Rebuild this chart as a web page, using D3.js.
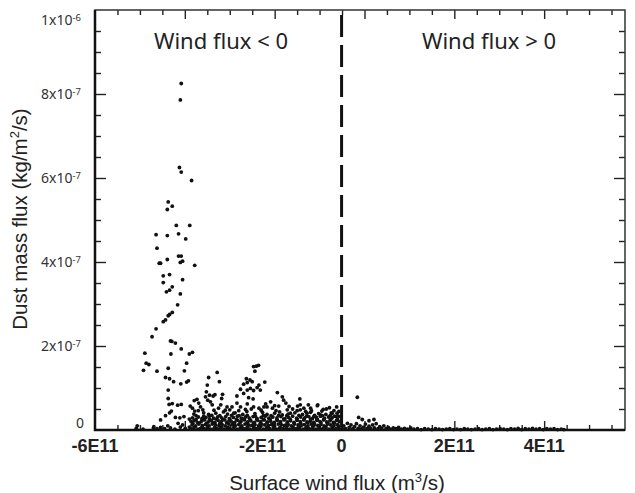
<!DOCTYPE html>
<html>
<head>
<meta charset="utf-8">
<script src="https://cdn.jsdelivr.net/npm/d3@7"></script>
<style>
body { margin: 0; background: #fff; }
svg { display: block; }
</style>
</head>
<body>
<svg id="chart"></svg>
<script>
// wind flux in units of 1e11 m3/s, dust flux in units of 1e-7 kg/m2/s
const scatterPoints = [
    [-4.08,8.25],[-4.10,7.86],[-4.12,6.25],[-4.08,6.14],[-3.85,5.94],[-4.37,5.43],[-4.28,5.33],[-4.39,5.25],
    [-4.19,4.87],[-3.89,4.87],[-4.64,4.65],[-4.39,4.63],[-4.14,4.67],[-3.98,4.55],[-4.62,4.33],[-4.14,4.14],
    [-4.08,4.14],[-4.39,4.06],[-4.57,3.97],[-4.54,3.97],[-4.10,3.99],[-4.05,4.02],[-3.78,3.92],[-4.48,3.67],
    [-4.34,3.70],[-4.05,3.58],[-4.48,3.51],[-4.28,3.41],[-4.34,3.33],[-4.41,3.29],[-4.10,3.24],[-4.16,2.98],
    [-4.28,2.80],[-4.34,2.75],[-4.37,2.72],[-4.43,2.62],[-4.48,2.58],[-4.64,2.41],[-4.73,2.22],[-4.32,2.12],
    [-4.29,2.11],[-4.21,2.07],[-4.89,1.83],[-4.31,1.81],[-4.08,1.93],[-3.90,1.81],[-3.83,1.85],[-4.86,1.59],
    [-4.80,1.56],[-3.96,1.59],[-4.92,1.42],[-4.62,1.40],[-4.37,1.47],[-4.01,1.41],[-4.43,1.25],[-4.34,1.22],
    [-4.25,1.15],[-4.09,1.10],[-3.96,1.14],[-3.92,1.17],[-4.37,0.95],[-4.28,0.63],[-4.35,0.61],[-4.30,0.45],
    [-4.34,0.41],[-4.37,0.75],[-4.08,0.61],[-4.16,0.59],[-4.54,0.24],[-4.21,0.30],[-4.11,0.29],[-4.02,0.32],
    [-4.43,0.34],[-4.69,0.08],[-5.06,0.10]
]

const secondPeak = [
    [-2.47,1.51],[-2.41,1.52],[-2.36,1.54],[-2.44,1.40],[-3.28,1.37],[-3.47,1.25],[-2.63,1.22],[-2.55,1.19],
    [-2.61,1.13],[-3.23,1.15],[-2.22,1.14],[-2.35,1.07],[-2.39,1.01],[-2.32,0.95],[-3.50,1.07],[-2.69,1.09],
    [-2.54,0.99],[-2.61,0.95],[-2.47,0.94],[-2.76,0.97],[-3.52,0.91],[-3.45,0.83],[-3.54,0.79],[-3.37,0.81],
    [-3.33,0.84],[-2.84,0.81],[-2.69,0.87],[-2.58,0.77],[-2.48,0.74],[-3.16,0.85],[-3.18,0.75],[-3.73,0.73],
    [-3.79,0.70],[-3.69,0.64],[-3.65,0.55],[-3.88,0.57],[-3.83,0.52],[-3.78,0.45],[-3.49,0.71],[-3.43,0.67],
    [-3.39,0.60],[-1.94,0.89],[-1.83,0.79],[-1.80,0.71],[-1.75,0.64],[-1.91,0.57],[-1.44,0.74],[-2.09,0.67],
    [-2.17,0.55],[-1.49,0.57],[-1.43,0.48],[-1.05,0.58],[-0.85,0.50],[-0.68,0.46],[-2.76,0.55],[-2.84,0.64],
    [-2.61,0.62],[-2.47,0.55],[-2.35,0.52],[-2.24,0.55],[-3.06,0.55],[-3.00,0.48],[-2.91,0.40],[-1.72,0.48],
    [-1.65,0.40],[-1.83,0.36],[-1.28,0.40],[-1.13,0.32],[-0.98,0.36],[-0.61,0.40],[-0.53,0.32],[-2.50,1.15],
    [-1.43,0.60],[-1.04,0.60],[-1.20,0.52],[-1.31,0.44],[-0.57,0.44],[-0.72,0.40],[-0.67,0.33]
]

const positivePoints = [
    [-0.16,0.78],[-0.13,0.30],[-0.05,0.25],[0.10,0.22],[0.21,0.25]
]

const denseBase = [
    [-3.87,.03],[-3.80,.05],[-3.71,.02],[-3.65,.04],[-3.57,.03],[-3.50,.05],[-3.43,.02],[-3.35,.04],[-3.28,.03],[-3.21,.05],
    [-3.13,.02],[-3.06,.04],[-2.99,.03],[-2.91,.05],[-2.84,.02],[-2.77,.04],[-2.69,.03],[-2.62,.05],[-2.55,.02],[-2.47,.04],
    [-2.40,.03],[-2.33,.05],[-2.25,.02],[-2.18,.04],[-2.11,.03],[-2.03,.05],[-1.96,.02],[-1.89,.04],[-1.81,.03],[-1.74,.05],
    [-1.67,.02],[-1.59,.04],[-1.52,.03],[-1.45,.05],[-1.37,.02],[-1.30,.04],[-1.23,.03],[-1.15,.05],[-1.08,.02],[-1.01,.04],
    [-0.93,.03],[-0.86,.05],[-0.79,.02],[-0.71,.04],[-0.64,.03],[-0.57,.05],
    [-3.90,.07],[-3.77,.08],[-3.62,.06],[-3.48,.09],[-3.33,.07],[-3.18,.08],[-3.04,.06],[-2.89,.09],[-2.75,.07],[-2.60,.08],
    [-2.46,.06],[-2.31,.09],[-2.17,.07],[-2.02,.08],[-1.88,.06],[-1.73,.09],[-1.59,.07],[-1.44,.08],[-1.30,.06],[-1.15,.09],
    [-1.01,.07],[-0.86,.08],[-0.72,.06],[-0.58,.09],
    [-3.84,.12],[-3.76,.10],[-3.69,.14],[-3.61,.11],[-3.54,.13],[-3.46,.10],[-3.39,.14],[-3.32,.12],[-3.24,.11],[-3.17,.13],
    [-3.10,.10],[-3.02,.14],[-2.95,.12],[-2.88,.11],[-2.80,.13],[-2.73,.10],[-2.66,.14],[-2.58,.12],[-2.51,.11],[-2.44,.13],
    [-2.36,.10],[-2.29,.14],[-2.22,.12],[-2.14,.11],[-2.07,.13],[-2.00,.10],[-1.92,.14],[-1.85,.12],[-1.78,.11],[-1.70,.13],
    [-1.63,.10],[-1.56,.14],[-1.48,.12],[-1.41,.11],[-1.34,.13],[-1.26,.10],[-1.19,.14],[-1.12,.12],[-1.04,.11],[-0.97,.13],
    [-0.90,.10],[-0.82,.14],[-0.75,.12],[-0.68,.11],[-0.60,.13],
    [-3.82,.16],[-3.67,.17],[-3.52,.16],[-3.37,.17],[-3.22,.16],[-3.07,.17],[-2.92,.16],[-2.77,.17],[-2.62,.16],[-2.47,.17],
    [-2.32,.16],[-2.17,.17],[-2.02,.16],[-1.87,.17],[-1.72,.16],[-1.57,.17],[-1.42,.16],[-1.27,.17],[-1.12,.16],[-0.97,.17],
    [-0.82,.16],[-0.67,.17],
    [-3.86,.20],[-3.79,.23],[-3.72,.18],[-3.63,.21],[-3.56,.24],[-3.48,.19],[-3.41,.22],[-3.33,.18],[-3.26,.23],[-3.19,.20],
    [-3.11,.24],[-3.04,.19],[-2.97,.21],[-2.89,.18],[-2.82,.23],[-2.75,.20],[-2.67,.24],[-2.60,.19],[-2.53,.22],[-2.45,.18],
    [-2.38,.23],[-2.31,.20],[-2.23,.24],[-2.16,.19],[-2.09,.21],[-2.01,.18],[-1.94,.23],[-1.87,.20],[-1.79,.24],[-1.72,.19],
    [-1.65,.22],[-1.57,.18],[-1.50,.23],[-1.43,.20],[-1.35,.24],[-1.28,.19],[-1.21,.21],[-1.13,.18],[-1.06,.23],[-0.99,.20],
    [-0.91,.24],[-0.84,.19],[-0.77,.22],[-0.69,.18],[-0.62,.23],[-0.56,.20],
    [-3.90,.26],[-3.75,.25],[-3.60,.26],[-3.45,.25],[-3.30,.26],[-3.15,.25],[-3.00,.26],[-2.85,.25],[-2.70,.26],[-2.55,.25],
    [-2.40,.26],[-2.25,.25],[-2.10,.26],[-1.95,.25],[-1.80,.26],[-1.65,.25],[-1.50,.26],[-1.35,.25],[-1.20,.26],[-1.05,.25],
    [-0.90,.26],[-0.75,.25],[-0.60,.26],
    [-3.83,.29],[-3.70,.31],[-3.62,.27],[-3.53,.30],[-3.45,.33],[-3.36,.28],[-3.27,.31],[-3.18,.29],[-3.09,.32],[-3.01,.27],
    [-2.92,.30],[-2.83,.33],[-2.74,.28],[-2.65,.31],[-2.57,.29],[-2.48,.32],[-2.39,.27],[-2.30,.30],[-2.21,.33],[-2.13,.28],
    [-2.04,.31],[-1.95,.29],[-1.86,.32],[-1.77,.27],[-1.69,.30],[-1.60,.33],[-1.51,.28],[-1.42,.31],[-1.33,.29],[-1.24,.32],
    [-1.16,.27],[-1.07,.30],[-0.98,.33],[-0.89,.28],[-0.80,.31],[-0.72,.29],[-0.63,.32],
    [-3.75,.34],[-3.58,.33],[-3.40,.35],[-3.22,.34],[-2.96,.35],[-2.79,.34],[-2.61,.35],[-2.43,.33],[-2.25,.35],[-2.08,.34],
    [-1.91,.35],[-1.73,.34],[-1.46,.35],[-1.29,.33],[-1.11,.35],[-0.94,.34],[-0.76,.35],[-0.58,.33],
    [-3.80,.38],[-3.58,.41],[-3.47,.37],[-3.31,.40],[-3.14,.43],[-3.05,.38],[-2.88,.41],[-2.71,.37],[-2.62,.44],[-2.44,.39],
    [-2.27,.42],[-2.17,.37],[-2.00,.40],[-1.89,.43],[-1.70,.38],[-1.55,.41],[-1.38,.37],[-1.20,.42],[-1.02,.39],[-0.86,.37],
    [-0.74,.41],
    [-3.60,.48],[-3.25,.52],[-3.10,.47],[-2.95,.55],[-2.80,.46],[-2.52,.50],[-2.30,.47],[-2.05,.52],[-1.97,.46],[-1.60,.50],
    [-1.50,.46],[-1.35,.52],[-1.18,.46],[-0.92,.49],[-0.78,.53],[-3.70,.46],[-3.35,.47],[-2.20,.62],[-2.00,.58],[-1.68,.56],
    [-1.25,.60],[-0.95,.45],[-0.62,.55],[-3.20,.60],[-2.65,.49]
]

const leftTail = [
    [-5.08,.04],[-4.93,.02],[-4.70,.05],[-4.62,.03],[-4.54,.06],[-4.45,.03],[-4.32,.05],[-4.22,.02],[-4.10,.07],[-3.99,.04],
    [-4.05,.12],[-4.38,.10],[-4.15,.16]
]

const rightTail = [
    [-0.50,.04],[-0.46,.10],[-0.42,.03],[-0.38,.16],[-0.34,.06],[-0.30,.12],[-0.26,.03],[-0.22,.08],[-0.18,.15],[-0.14,.04],
    [-0.10,.10],[-0.06,.03],[-0.02,.07],[0.02,.14],[0.06,.04],[0.10,.09],[0.14,.03],[0.18,.12],[0.22,.05],[0.26,.15],
    [0.30,.03],[0.34,.08],[0.38,.04],[0.43,.10],[0.48,.03],[0.53,.06],[0.58,.02],[0.64,.05],[0.70,.03],[0.76,.06],
    [0.82,.02],[0.89,.04],[0.96,.02],[1.03,.05],[1.10,.02],[1.18,.03],[1.26,.01],[1.34,.03],[1.42,.02],[1.50,.01],
    [1.58,.03],[1.66,.02],[1.74,.01],[1.82,.02],[1.90,.03],[1.98,.01],[2.06,.02],[2.14,.01],[2.22,.03],[2.30,.02],
    [2.38,.01],[2.46,.02],[2.54,.03],[2.62,.01],[2.70,.02],[2.78,.03],[2.86,.01],[2.94,.02],[3.02,.03],[3.10,.02],
    [3.18,.01],[3.26,.03],[3.34,.02],[3.42,.04],[3.50,.01],[3.58,.03],[3.66,.02],[3.74,.04],[3.82,.02],[3.90,.03],
    [3.98,.01],[4.06,.03],[4.14,.02],[4.22,.03],[4.30,.01],[4.38,.02],[4.44,.01]
]

// tick labels (placed where the original figure puts them)
const xLabelAt = [-6e11, -2.27e11, -0.51e11, 2e11, 4e11]
const xLabelText = ["-6E11", "-2E11", "0", "2E11", "4E11"]
const yTickVals = [0, 2e-7, 4e-7, 6e-7, 8e-7, 1e-6]
const yTickMant = ["0", "2", "4", "6", "8", "1"]
const yTickExp = ["", "-7", "-7", "-7", "-7", "-6"]
const zeroLineAt = -0.51e11

const width = 635
const height = 493
const margin = { top: 10, right: 10, bottom: 63, left: 95 }

const svg = d3.select("#chart")
    .attr("width", width)
    .attr("height", height)

const x = d3.scaleLinear()
    .domain([-6e11, 5.8e11])
    .range([margin.left, width - margin.right])

const y = d3.scaleLinear()
    .domain([0, 1e-6])
    .range([height - margin.bottom, margin.top])

const x0 = margin.left, x1 = width - margin.right
const y0 = height - margin.bottom, y1 = margin.top

const xMinor = d3.range(-11, 12).filter(k => k % 4 !== 0).map(k => k * 0.5e11)
const xMajor = [-4e11, -2e11, 0, 2e11, 4e11]
const yMinor = d3.range(1, 20).filter(k => k % 4 !== 0).map(k => k * 0.5e-7)
const yMajor = [2e-7, 4e-7, 6e-7, 8e-7]

function tickAxis(axisFn, scale, values, size, transform)
{
    svg.append("g")
        .attr("transform", transform)
        .call(axisFn(scale).tickValues(values).tickSize(-size).tickSizeOuter(0).tickFormat(""))
        .call(g => g.select(".domain").remove())
        .call(g => g.selectAll("line").attr("stroke", "#222").attr("stroke-width", 1.4))
}

tickAxis(d3.axisBottom, x, xMinor, 5, `translate(0,${y0})`)
tickAxis(d3.axisBottom, x, xMajor, 9, `translate(0,${y0})`)
tickAxis(d3.axisTop, x, xMinor, 5, `translate(0,${y1})`)
tickAxis(d3.axisTop, x, xMajor, 9, `translate(0,${y1})`)
tickAxis(d3.axisLeft, y, yMinor, 6, `translate(${x0},0)`)
tickAxis(d3.axisLeft, y, yMajor, 11, `translate(${x0},0)`)
tickAxis(d3.axisRight, y, yMinor, 6, `translate(${x1},0)`)
tickAxis(d3.axisRight, y, yMajor, 11, `translate(${x1},0)`)

// dashed divider
svg.append("line")
    .attr("x1", x(zeroLineAt)).attr("x2", x(zeroLineAt))
    .attr("y1", y1 + 5).attr("y2", y0)
    .attr("stroke", "#111")
    .attr("stroke-width", 3)
    .attr("stroke-dasharray", "22,8")

// points
const allPoints = [].concat(leftTail, denseBase, rightTail, secondPeak, scatterPoints, positivePoints)

svg.append("g")
    .selectAll("circle")
    .data(allPoints)
    .enter()
    .append("circle")
    .attr("cx", d => x(d[0] * 1e11))
    .attr("cy", d => y(d[1] * 1e-7))
    .attr("r", 1.9)
    .attr("fill", "#111")

// frame
svg.append("path")
    .attr("d", `M${x0},${y0}H${x1}V${y1}H${x0}Z`)
    .attr("fill", "none")
    .attr("stroke", "#333")
    .attr("stroke-width", 1.5)
svg.append("path")
    .attr("d", `M${x0},${y1}V${y0}H${x1}`)
    .attr("fill", "none")
    .attr("stroke", "#111")
    .attr("stroke-width", 2.5)

// x tick labels
svg.append("g")
    .selectAll("text")
    .data(xLabelAt)
    .enter()
    .append("text")
    .attr("x", d => x(d))
    .attr("y", 452)
    .attr("text-anchor", "middle")
    .style("font-family", "'Liberation Sans', Arial, sans-serif")
    .style("font-weight", "bold")
    .style("font-size", "18px")
    .attr("fill", "#222")
    .text((d, i) => xLabelText[i])

// y tick labels
const yLab = svg.append("g")
    .selectAll("text")
    .data(yTickVals)
    .enter()
    .append("text")
    .attr("x", (d, i) => i === 0 ? 84 : 81)
    .attr("y", (d, i) => y(d) + (i === 0 ? -7 : i === yTickVals.length - 1 ? 10 : 0))
    .attr("dy", "0.35em")
    .attr("text-anchor", "end")
    .style("font-family", "'Noto Sans', sans-serif")
    .style("font-size", "14px")
    .attr("fill", "#333")

yLab.append("tspan").text((d, i) => i === 0 ? yTickMant[i] : yTickMant[i] + "x10")
yLab.filter((d, i) => i > 0)
    .append("tspan")
    .attr("dy", "-0.45em")
    .style("font-size", "9.5px")
    .text((d, i) => yTickExp[i + 1])

// axis titles
const title = svg.append("text")
    .attr("x", 337)
    .attr("y", 490)
    .attr("text-anchor", "middle")
    .style("font-family", "'Liberation Sans', Arial, sans-serif")
    .style("font-size", "20.5px")
    .attr("fill", "#222")
title.append("tspan").text("Surface wind flux (m")
title.append("tspan").attr("dy", -8).style("font-size", "13px").text("3")
title.append("tspan").attr("dy", 8).text("/s)")

const yTitle = svg.append("text")
    .attr("transform", "translate(27,219) rotate(-90)")
    .attr("text-anchor", "middle")
    .style("font-family", "'Liberation Sans', Arial, sans-serif")
    .style("font-size", "20.5px")
    .attr("fill", "#222")
yTitle.append("tspan").text("Dust mass flux (kg/m")
yTitle.append("tspan").attr("dy", -8).style("font-size", "13px").text("2")
yTitle.append("tspan").attr("dy", 8).text("/s)")

// region annotations
svg.append("text")
    .attr("x", 221).attr("y", 49)
    .attr("text-anchor", "middle")
    .style("font-family", "'Noto Sans', sans-serif")
    .style("font-size", "22px")
    .attr("fill", "#222")
    .text("Wind flux < 0")

svg.append("text")
    .attr("x", 489).attr("y", 49)
    .attr("text-anchor", "middle")
    .style("font-family", "'Noto Sans', sans-serif")
    .style("font-size", "22px")
    .attr("fill", "#222")
    .text("Wind flux > 0")
</script>
</body>
</html>
